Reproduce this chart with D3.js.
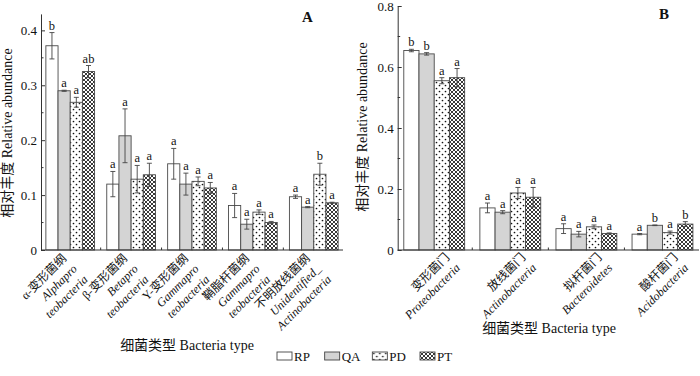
<!DOCTYPE html>
<html lang="en">
<head>
<meta charset="UTF-8">
<title>Bacteria relative abundance</title>
<script src="https://d3js.org/d3.v7.min.js"></script>
<style>
  body { margin: 0; background: #fff; }
  svg text { font-family: "Liberation Serif", "Noto Sans CJK SC", serif; fill: #111; }
</style>
</head>
<body>
<div id="wrapper"></div>
<script>
// series (treatments)
const series = ["RP", "QA", "PD", "PT"];

// panel A - class level
const classLabels = [
  ["α-变形菌纲", "Alphapro", "teobacteria"],
  ["β-变形菌纲", "Betapro", "teobacteria"],
  ["Y-变形菌纲", "Gammapro", "teobacteria"],
  ["鞘脂杆菌纲", "Gammapro", "teobacteria"],
  ["不明放线菌纲", "Unidentified_", "Actinobacteria"]
];
const classRP = [0.372, 0.120, 0.157, 0.081, 0.097];
const classQA = [0.290, 0.208, 0.120, 0.047, 0.078];
const classPD = [0.269, 0.129, 0.125, 0.069, 0.138];
const classPT = [0.325, 0.137, 0.113, 0.050, 0.086];
const classErrRP = [0.024, 0.023, 0.028, 0.022, 0.003];
const classErrQA = [0.001, 0.049, 0.020, 0.009, 0.001];
const classErrPD = [0.009, 0.025, 0.008, 0.004, 0.020];
const classErrPT = [0.011, 0.021, 0.010, 0.002, 0.001];
const classSig = [["b","a","a","ab"], ["a","a","a","a"], ["a","a","a","a"], ["a","a","a","a"], ["a","a","b","a"]];
const classTicks = [0, 0.1, 0.2, 0.3, 0.4];
const classMinor = [0.05, 0.15, 0.25, 0.35];

// panel B - phylum level
const phylumLabels = [
  ["变形菌门", "Proteobacteria"],
  ["放线菌门", "Actinobacteria"],
  ["拟杆菌门", "Bacteroidetes"],
  ["酸杆菌门", "Acidobacteria"]
];
const phylumRP = [0.654, 0.138, 0.070, 0.052];
const phylumQA = [0.643, 0.124, 0.052, 0.081];
const phylumPD = [0.555, 0.187, 0.076, 0.057];
const phylumPT = [0.565, 0.173, 0.054, 0.085];
const phylumErrRP = [0.004, 0.016, 0.016, 0.002];
const phylumErrQA = [0.004, 0.005, 0.009, 0.001];
const phylumErrPD = [0.010, 0.018, 0.006, 0.005];
const phylumErrPT = [0.030, 0.032, 0.002, 0.008];
const phylumSig = [["b","b","a","a"], ["a","a","a","a"], ["a","a","a","a"], ["a","b","a","b"]];
const phylumTicks = [0, 0.2, 0.4, 0.6, 0.8];
const phylumMinor = [0.1, 0.3, 0.5, 0.7];

const W = 700, H = 376;
const svg = d3.select("#wrapper").append("svg")
  .attr("width", W).attr("height", H);

// fill patterns
const defs = svg.append("defs");
const dots = defs.append("pattern").attr("id", "dots")
  .attr("patternUnits", "userSpaceOnUse").attr("width", 6).attr("height", 6);
dots.append("rect").attr("width", 6).attr("height", 6).attr("fill", "#fff");
dots.append("circle").attr("cx", 1.5).attr("cy", 1.5).attr("r", 0.85).attr("fill", "#111");
dots.append("circle").attr("cx", 4.5).attr("cy", 4.5).attr("r", 0.85).attr("fill", "#111");

const hatch = defs.append("pattern").attr("id", "hatch")
  .attr("patternUnits", "userSpaceOnUse").attr("width", 4).attr("height", 4);
hatch.append("rect").attr("width", 4).attr("height", 4).attr("fill", "#fff");
hatch.append("path").attr("d", "M0,0L4,4M4,0L0,4").attr("stroke", "#222").attr("stroke-width", 0.9);

const fills = { RP: "#fff", QA: "#d4d4d4", PD: "url(#dots)", PT: "url(#hatch)" };

function panel(opt) {
  const g = svg.append("g");
  const cats = opt.labels.map((d, i) => "c" + i);
  const x = d3.scaleBand().domain(cats).range(opt.xr).paddingInner(0.2).paddingOuter(0.08);
  const xs = d3.scaleBand().domain(series).range([0, x.bandwidth()]);
  const y = d3.scaleLinear().domain(opt.yd).range([250, opt.ytop]);

  const rows = [];
  cats.forEach((c, i) => {
    series.forEach((s, j) => {
      rows.push({ c, s, v: opt.vals[j][i], e: opt.errs[j][i], sig: opt.sig[i][j] });
    });
  });

  // bars
  g.selectAll("rect.bar").data(rows).join("rect")
    .attr("class", "bar")
    .attr("x", d => x(d.c) + xs(d.s))
    .attr("y", d => y(d.v))
    .attr("width", xs.bandwidth())
    .attr("height", d => y(0) - y(d.v))
    .attr("fill", d => fills[d.s])
    .attr("stroke", "#4a4a4a").attr("stroke-width", 0.9);

  // error bars
  const eb = g.selectAll("g.err").data(rows).join("g").attr("class", "err")
    .attr("stroke", "#444").attr("stroke-width", 0.9);
  const cx = d => x(d.c) + xs(d.s) + xs.bandwidth() / 2;
  eb.append("line").attr("x1", cx).attr("x2", cx)
    .attr("y1", d => y(d.v - d.e)).attr("y2", d => y(d.v + d.e));
  eb.append("line").attr("x1", d => cx(d) - 2.5).attr("x2", d => cx(d) + 2.5)
    .attr("y1", d => y(d.v + d.e)).attr("y2", d => y(d.v + d.e));
  eb.append("line").attr("x1", d => cx(d) - 2.5).attr("x2", d => cx(d) + 2.5)
    .attr("y1", d => y(d.v - d.e)).attr("y2", d => y(d.v - d.e));

  // significance letters
  g.selectAll("text.sig").data(rows).join("text").attr("class", "sig")
    .attr("x", cx).attr("y", d => y(d.v + d.e) - 3)
    .attr("text-anchor", "middle").style("font-size", "12.5px")
    .text(d => d.sig);

  // y axis
  const ya = g.append("g").attr("transform", `translate(${opt.xr[0]},0)`)
    .call(d3.axisLeft(y).tickValues(opt.ticks).tickSizeInner(-4).tickSizeOuter(0)
      .tickFormat(d => d === 0 ? "0" : d3.format(".1f")(d)));
  ya.select(".domain").attr("stroke", "#333");
  ya.selectAll(".tick line").attr("stroke", "#333");
  ya.selectAll(".tick text").attr("x", -4).style("font-size", "13px")
    .style("font-family", "Liberation Serif").attr("fill", "#111");
  g.selectAll("line.minor").data(opt.minor).join("line").attr("class", "minor")
    .attr("x1", opt.xr[0]).attr("x2", opt.xr[0] + 2.5)
    .attr("y1", d => y(d)).attr("y2", d => y(d)).attr("stroke", "#333");

  // x axis line and group separators
  g.append("line").attr("x1", opt.xr[0]).attr("x2", opt.xr[1])
    .attr("y1", 250).attr("y2", 250).attr("stroke", "#333");
  g.selectAll("line.sep").data(cats.slice(1)).join("line").attr("class", "sep")
    .attr("x1", d => x(d) - x.step() * x.paddingInner() / 2)
    .attr("x2", d => x(d) - x.step() * x.paddingInner() / 2)
    .attr("y1", 250).attr("y2", 247.5).attr("stroke", "#333");

  // category labels, rotated
  const lab = g.selectAll("text.cat").data(opt.labels).join("text").attr("class", "cat")
    .attr("text-anchor", "end").style("font-size", "12px")
    .attr("transform", (d, i) => `translate(${x(cats[i]) + x.bandwidth() / 2 + opt.ldx},${opt.ldy}) rotate(-45)`);
  lab.selectAll("tspan").data(d => d).join("tspan")
    .attr("x", 0).attr("dy", (d, i) => i === 0 ? 0 : "1.25em")
    .style("font-style", (d, i) => i === 0 ? "normal" : "italic")
    .text(d => d);

  // titles
  g.append("text").attr("transform", `translate(${opt.ytx},${opt.yty}) rotate(-90)`)
    .attr("text-anchor", "middle").style("font-size", "14px")
    .text("相对丰度 Relative abundance");
  g.append("text").attr("x", opt.xtx).attr("y", opt.xty)
    .attr("text-anchor", "middle").style("font-size", "14px")
    .text("细菌类型 Bacteria type");
  g.append("text").attr("x", opt.px).attr("y", opt.py)
    .style("font-size", "15px").style("font-weight", "bold").text(opt.name);
}

panel({
  name: "A", px: 302, py: 22,
  labels: classLabels,
  vals: [classRP, classQA, classPD, classPT],
  errs: [classErrRP, classErrQA, classErrPD, classErrPT],
  sig: classSig, ticks: classTicks, minor: classMinor,
  xr: [41, 343], yd: [0, 0.43], ytop: 13.9,
  ldx: -3, ldy: 259, ytx: 12, yty: 133, xtx: 187, xty: 350
});

panel({
  name: "B", px: 659, py: 19,
  labels: phylumLabels,
  vals: [phylumRP, phylumQA, phylumPD, phylumPT],
  errs: [phylumErrRP, phylumErrQA, phylumErrPD, phylumErrPT],
  sig: phylumSig, ticks: phylumTicks, minor: phylumMinor,
  xr: [397.7, 699], yd: [0, 0.8], ytop: 6,
  ldx: 16, ldy: 258, ytx: 367, yty: 127, xtx: 549, xty: 333
});

// legend
const leg = svg.append("g").attr("transform", "translate(277,352)");
const lx = d3.scalePoint().domain(series).range([0, 143]);
const li = leg.selectAll("g").data(series).join("g")
  .attr("transform", d => `translate(${lx(d)},0)`);
li.append("rect").attr("width", 15).attr("height", 8)
  .attr("fill", d => fills[d]).attr("stroke", "#444").attr("stroke-width", 0.9);
li.append("text").attr("x", 17).attr("y", 8.5).style("font-size", "13px").text(d => d);
</script>
</body>
</html>
